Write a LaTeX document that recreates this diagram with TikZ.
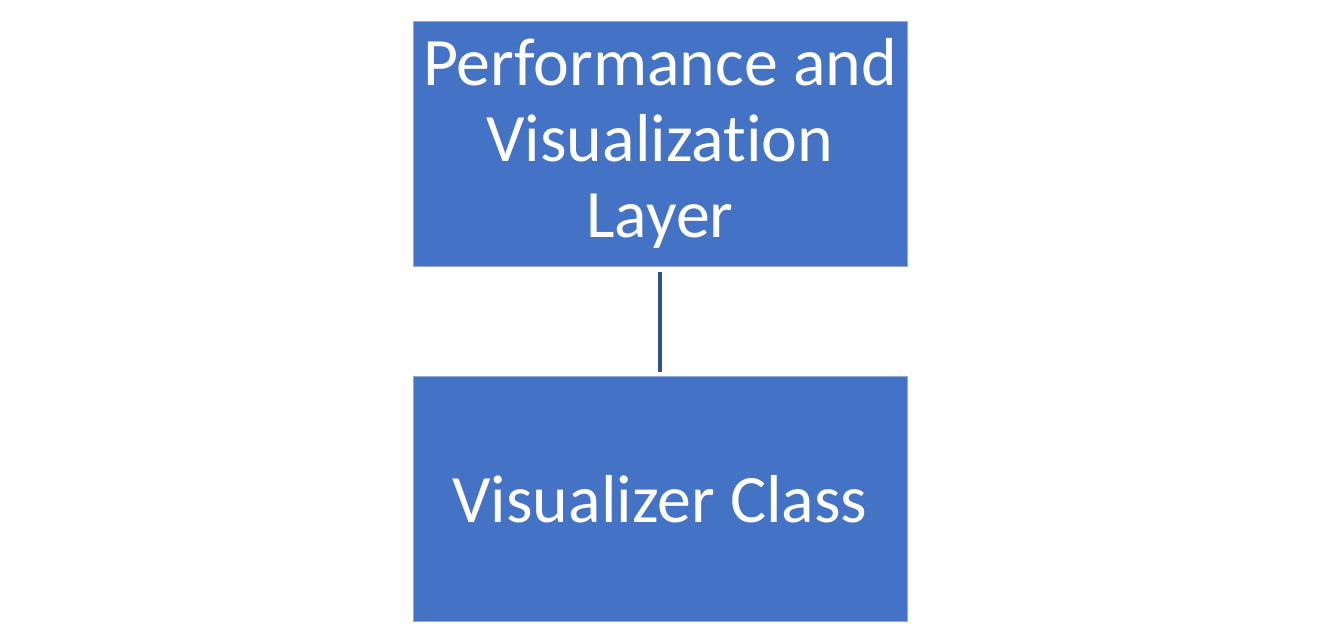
\documentclass[tikz,border=0pt]{standalone}
\usepackage{fontspec}
\setmainfont{Carlito}[Ligatures=NoCommon]
\usetikzlibrary{positioning}

\definecolor{layerblue}{HTML}{4472C4}
\definecolor{linkblue}{HTML}{2F528F}

\begin{document}
\begin{tikzpicture}[
  layer/.style={fill=layerblue, draw=layerblue!60!white, line width=0.3pt,
    minimum width=9.88cm, minimum height=4.9cm, inner sep=0pt,
    align=center, text=white,
    font=\fontsize{38.6}{43.1}\selectfont},
  link/.style={draw=linkblue, line width=2.2pt}
]
  \useasboundingbox (0,0) rectangle (26.4,-12.64);

  % the two layers
  \node[layer] (perf) at (13.2,-2.87) {Performance and\\Visualization\\Layer};
  \node[layer, below=2.2cm of perf] (viz) {Visualizer Class};

  % connector
  \draw[link, shorten <=0.12cm, shorten >=0.08cm] (perf.south) -- (viz.north);
\end{tikzpicture}
\end{document}
